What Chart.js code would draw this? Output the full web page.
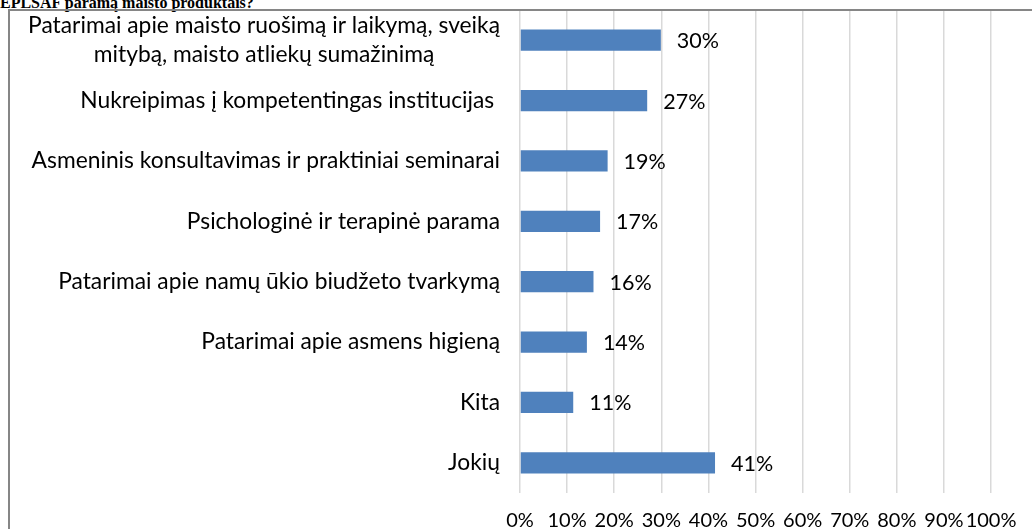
<!DOCTYPE html>
<html>
<head>
<meta charset="utf-8">
<script src="https://cdn.jsdelivr.net/npm/chart.js@4.4.0/dist/chart.umd.min.js"></script>
<style>
  html, body { margin: 0; padding: 0; background: #fff; overflow: hidden; }
  #wrap { position: relative; width: 1032px; height: 529px; overflow: hidden; }
  #title { position: absolute; left: 0; top: -6px; font: bold 16px "Liberation Serif", serif; white-space: nowrap; color: #000; }
  #frame { position: absolute; left: 8px; top: 9px; width: 1100px; height: 600px; border-left: 2px solid #868686; border-top: 2px solid #868686; pointer-events: none; }
  canvas { position: absolute; left: 0; top: 0; }
</style>
</head>
<body>
<div id="wrap">
  <div id="title">EPLSAF paramą maisto produktais?</div>
  <canvas id="chart" width="1032" height="529"></canvas>
  <div id="frame"></div>
</div>
<script>
const categories = [
  ["Patarimai apie maisto ruošimą ir laikymą, sveiką", "mitybą, maisto atliekų sumažinimą"],
  "Nukreipimas į kompetentingas institucijas ",
  "Asmeninis konsultavimas ir praktiniai seminarai",
  "Psichologinė ir terapinė parama",
  "Patarimai apie namų ūkio biudžeto tvarkymą",
  "Patarimai apie asmens higieną",
  "Kita",
  "Jokių"
];
const shares = [29.9, 27.0, 18.6, 17.0, 15.6, 14.2, 11.3, 41.4];
const shareLabels = ["30%", "27%", "19%", "17%", "16%", "14%", "11%", "41%"];
const tickValues = [0, 10, 20, 30, 40, 50, 60, 70, 80, 90, 100];

const FONT = "Lato, 'Noto Sans', sans-serif";

// category names: block right-aligned, lines of a block centred on each other
const categoryLabels = {
  id: "categoryLabels",
  afterDraw(chart) {
    const ctx = chart.ctx;
    const yScale = chart.scales.y;
    const right = chart.chartArea.left - 20;
    ctx.save();
    ctx.font = "22.8px " + FONT;
    ctx.fillStyle = "#000";
    ctx.textBaseline = "middle";
    ctx.textAlign = "center";
    categories.forEach((label, i) => {
      const lines = Array.isArray(label) ? label : [label];
      const blockW = Math.max(...lines.map(l => ctx.measureText(l).width));
      const cy = yScale.getPixelForValue(i);
      lines.forEach((l, j) => {
        ctx.fillText(l, right - blockW / 2, cy + (j - (lines.length - 1) / 2) * 29);
      });
    });
    ctx.restore();
  }
};

const valueLabels = {
  id: "valueLabels",
  afterDatasetsDraw(chart) {
    const ctx = chart.ctx;
    ctx.save();
    ctx.font = "21.5px " + FONT;
    ctx.fillStyle = "#000";
    ctx.textBaseline = "middle";
    ctx.textAlign = "left";
    chart.getDatasetMeta(0).data.forEach((bar, i) => {
      ctx.fillText(shareLabels[i], bar.x + 16, bar.y + 1);
    });
    ctx.restore();
  }
};

new Chart(document.getElementById("chart"), {
  type: "bar",
  data: {
    labels: categories,
    datasets: [{
      data: shares,
      backgroundColor: "#4F81BD",
      barPercentage: 0.35,
      categoryPercentage: 1
    }]
  },
  options: {
    indexAxis: "y",
    responsive: false,
    animation: false,
    layout: { padding: { top: 10, right: 29, left: 0, bottom: 0 } },
    plugins: { legend: { display: false }, tooltip: { enabled: false } },
    scales: {
      x: {
        min: 0,
        max: 100,
        afterBuildTicks: s => { s.ticks = tickValues.map(v => ({ value: v })); },
        afterFit: s => { s.height = 36; },
        grid: { color: "#d9d9d9", lineWidth: 1.5, drawTicks: false },
        border: { display: false },
        ticks: {
          padding: 15.5,
          color: "#000",
          font: { family: FONT, size: 20 },
          autoSkip: false,
          maxRotation: 0,
          callback: v => v + "%"
        }
      },
      y: {
        afterFit: s => { s.width = 520; },
        grid: { display: false, drawTicks: false },
        border: { display: false },
        ticks: { display: false }
      }
    }
  },
  plugins: [categoryLabels, valueLabels]
});
</script>
</body>
</html>
